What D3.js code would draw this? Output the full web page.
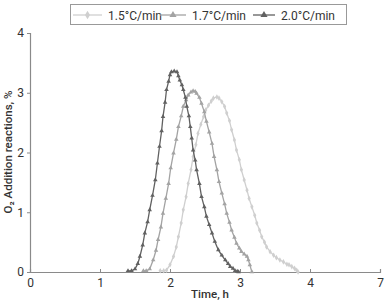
<!DOCTYPE html>
<html lang="en">
<head>
<meta charset="utf-8">
<script src="https://d3js.org/d3.v7.min.js"></script>
<style>
  body { margin: 0; background: #fff; }
  svg text { font-family: Roboto, "Liberation Sans", sans-serif; fill: #333; }
</style>
</head>
<body>
<div id="chart"></div>
<script>
// tick positions and the labels printed under them
var xTicks = [0, 1, 2, 3, 4, 5];
var xTickLabels = ["0", "1", "2", "3", "4", "7"];
var yTicks = [0, 1, 2, 3, 4];

var seriesNames = ["1.5°C/min", "1.7°C/min", "2.0°C/min"];

// time (h)
var t15 = [1.86, 1.91, 1.95, 2.00, 2.05, 2.09, 2.12, 2.16, 2.19, 2.23, 2.26, 2.30, 2.33, 2.37, 2.40, 2.44, 2.48, 2.51, 2.55, 2.59, 2.62, 2.67, 2.70, 2.74, 2.78, 2.81, 2.85, 2.88, 2.92, 2.95, 2.99, 3.02, 3.06, 3.10, 3.13, 3.17, 3.21, 3.24, 3.28, 3.31, 3.35, 3.38, 3.43, 3.48, 3.52, 3.57, 3.62, 3.67, 3.70, 3.74, 3.78, 3.81, 3.83];
var v15 = [0.02, 0.02, 0.03, 0.12, 0.26, 0.42, 0.59, 0.82, 1.04, 1.26, 1.48, 1.71, 1.93, 2.13, 2.32, 2.47, 2.60, 2.71, 2.79, 2.86, 2.91, 2.93, 2.91, 2.85, 2.77, 2.66, 2.53, 2.38, 2.21, 2.04, 1.88, 1.71, 1.54, 1.37, 1.23, 1.09, 0.95, 0.82, 0.70, 0.59, 0.50, 0.42, 0.34, 0.28, 0.24, 0.20, 0.17, 0.13, 0.12, 0.09, 0.06, 0.03, 0.00];

var t17 = [1.62, 1.66, 1.71, 1.76, 1.80, 1.83, 1.87, 1.90, 1.94, 1.98, 2.01, 2.05, 2.09, 2.12, 2.16, 2.19, 2.23, 2.26, 2.30, 2.33, 2.36, 2.38, 2.42, 2.45, 2.49, 2.52, 2.56, 2.60, 2.63, 2.67, 2.70, 2.74, 2.78, 2.81, 2.85, 2.88, 2.92, 2.95, 2.99, 3.02, 3.06, 3.10, 3.12, 3.14, 3.17];
var v17 = [0.02, 0.02, 0.05, 0.20, 0.36, 0.54, 0.75, 0.98, 1.23, 1.48, 1.74, 1.99, 2.22, 2.43, 2.61, 2.77, 2.88, 2.96, 3.01, 3.03, 3.02, 2.99, 2.92, 2.82, 2.68, 2.52, 2.34, 2.15, 1.93, 1.71, 1.51, 1.32, 1.14, 0.98, 0.83, 0.70, 0.58, 0.48, 0.40, 0.34, 0.30, 0.26, 0.20, 0.12, 0.00];

var t20 = [1.40, 1.45, 1.50, 1.54, 1.57, 1.61, 1.64, 1.68, 1.71, 1.75, 1.79, 1.82, 1.85, 1.88, 1.90, 1.93, 1.95, 1.98, 2.00, 2.02, 2.06, 2.10, 2.12, 2.14, 2.17, 2.19, 2.22, 2.24, 2.27, 2.29, 2.31, 2.33, 2.36, 2.38, 2.42, 2.45, 2.49, 2.52, 2.56, 2.60, 2.64, 2.69, 2.74, 2.79, 2.83, 2.86, 2.90, 2.93, 2.96, 2.98];
var v20 = [0.02, 0.02, 0.05, 0.14, 0.26, 0.45, 0.65, 0.84, 1.04, 1.28, 1.54, 1.82, 2.10, 2.36, 2.60, 2.84, 3.05, 3.19, 3.30, 3.35, 3.36, 3.35, 3.28, 3.21, 3.13, 3.05, 2.92, 2.77, 2.61, 2.43, 2.24, 2.04, 1.87, 1.71, 1.48, 1.26, 1.09, 0.93, 0.79, 0.65, 0.51, 0.37, 0.28, 0.20, 0.14, 0.09, 0.06, 0.02, 0.01, 0.00];

var seriesColors = ["#cfcfcf", "#a3a3a3", "#616161"];

var width = 389, height = 301;
var svg = d3.select("#chart").append("svg")
    .attr("width", width)
    .attr("height", height);

var x = d3.scaleLinear().domain([0, 5]).range([30, 380]);
var y = d3.scaleLinear().domain([0, 4]).range([272, 33]);

// axes
var xAxis = svg.append("g")
    .attr("transform", "translate(0," + y(0) + ")")
    .call(d3.axisBottom(x).tickValues(xTicks).tickSize(-3).tickPadding(6)
      .tickFormat(function(d, i) { return xTickLabels[i]; }));
var yAxis = svg.append("g")
    .attr("transform", "translate(" + x(0) + ",0)")
    .call(d3.axisLeft(y).tickValues(yTicks).tickSize(3).tickPadding(3)
      .tickFormat(d3.format("d")));

[xAxis, yAxis].forEach(function(a) {
  a.select(".domain").attr("stroke", "#8a8a8a").attr("stroke-width", 1.2);
  a.selectAll(".tick line").attr("stroke", "#8a8a8a");
  a.selectAll(".tick text").style("font-size", "12px").attr("fill", "#333");
});

// axis titles
svg.append("text")
    .attr("x", 210).attr("y", 298)
    .attr("text-anchor", "middle")
    .style("font-size", "11.5px").style("font-weight", "500")
    .text("Time, h");
svg.append("text")
    .attr("transform", "translate(12,152) rotate(-90)")
    .attr("text-anchor", "middle")
    .style("font-size", "11.5px").style("font-weight", "500")
    .text("O₂ Addition reactions, %");

// series
var allSeries = [
  { name: seriesNames[0], t: t15, v: v15, color: seriesColors[0], symbol: d3.symbolDiamond },
  { name: seriesNames[1], t: t17, v: v17, color: seriesColors[1], symbol: d3.symbolTriangle },
  { name: seriesNames[2], t: t20, v: v20, color: seriesColors[2], symbol: d3.symbolTriangle }
];

var line = d3.line()
    .x(function(d) { return x(d[0]); })
    .y(function(d) { return y(d[1]); });

allSeries.forEach(function(s) {
  var pts = s.t.map(function(tv, i) { return [tv, s.v[i]]; });
  svg.append("path")
      .datum(pts)
      .attr("fill", "none")
      .attr("stroke", s.color)
      .attr("stroke-width", 1.3)
      .attr("d", line);
  svg.append("g").selectAll("path")
      .data(pts)
    .enter().append("path")
      .attr("transform", function(d) { return "translate(" + x(d[0]) + "," + y(d[1]) + ")"; })
      .attr("d", d3.symbol().type(s.symbol).size(9))
      .attr("fill", s.color);
});

// legend
var legend = svg.append("g");
legend.append("rect")
    .attr("x", 70.5).attr("y", 4.5)
    .attr("width", 276).attr("height", 20)
    .attr("fill", "#fff")
    .attr("stroke", "#999");
var legendX = [73, 160, 253];
var legendLen = [29, 26, 22];
allSeries.forEach(function(s, i) {
  legend.append("line")
      .attr("x1", legendX[i]).attr("x2", legendX[i] + legendLen[i])
      .attr("y1", 15).attr("y2", 15)
      .attr("stroke", s.color).attr("stroke-width", 1.3);
  legend.append("path")
      .attr("transform", "translate(" + (legendX[i] + legendLen[i] / 2) + ",15)")
      .attr("d", d3.symbol().type(s.symbol).size(22))
      .attr("fill", s.color);
  legend.append("text")
      .attr("x", legendX[i] + legendLen[i] + 6).attr("y", 19.5)
      .style("font-size", "12px")
      .text(s.name);
});
</script>
</body>
</html>
